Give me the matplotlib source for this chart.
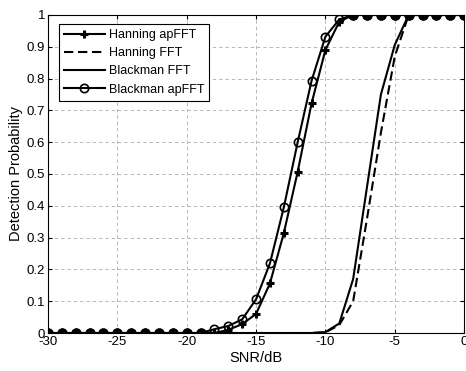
import numpy as np
import matplotlib
matplotlib.use("Agg")
import matplotlib.pyplot as plt

plt.rcParams['font.family'] = ['Liberation Sans', 'DejaVu Sans']
plt.rcParams['axes.unicode_minus'] = False

# SNR grid (dB) and detection probabilities
snr = list(range(-30, 1))
hann_ap = [0]*13 + [0.01, 0.028, 0.06, 0.156, 0.314, 0.507, 0.722, 0.89, 0.979] + [1]*9
hann_fft = [0]*20 + [0.002, 0.025, 0.10, 0.36, 0.63, 0.87] + [1]*5
blk_fft = [0]*20 + [0.003, 0.03, 0.17, 0.46, 0.75, 0.906] + [1]*5
blk_ap = [0]*12 + [0.012, 0.022, 0.043, 0.106, 0.219, 0.395, 0.60, 0.793, 0.932, 0.986] + [1]*9

labels = ['Hanning apFFT', 'Hanning FFT', 'Blackman FFT', 'Blackman apFFT']

fig = plt.figure(figsize=(4.66, 3.71), dpi=100)
ax = fig.add_axes([0.103, 0.1024, 0.893, 0.8572])

snr_a = np.array(snr)
ha = np.array(hann_ap)
ba = np.array(blk_ap)

ax.plot(snr, hann_ap, color='k', lw=1.5, marker='+', ms=6, mew=2.2, label=labels[0])
ax.plot(snr, hann_fft, color='k', lw=1.5, dashes=(4.5, 2.2), label=labels[1])
ax.plot(snr, blk_fft, color='k', lw=1.5, label=labels[2])
ax.plot(snr, blk_ap, color='k', lw=1.5, marker='o', ms=6, mfc='none', mew=1.2, label=labels[3])

# where the two apFFT curves coincide the markers merge into solid dots
same = (ha == ba) & ((ha == 0) | (ha == 1))
ax.plot(snr_a[same], ha[same], ls='none', marker='o', ms=6.5, color='k')

ax.set_xlim(-30, 0)
ax.set_ylim(0, 1)
ax.set_xticks(range(-30, 1, 5))
ax.set_yticks(np.arange(0, 1.01, 0.1))
ax.set_yticklabels(['0', '0.1', '0.2', '0.3', '0.4', '0.5', '0.6', '0.7', '0.8', '0.9', '1'])
ax.tick_params(direction='in', top=True, right=True, length=3, labelsize=9.5, pad=2)
ax.grid(True, color='#b8b8b8', ls=(0, (3.5, 3)), lw=0.7)
for s in ax.spines.values():
    s.set_linewidth(0.8)

ax.set_xlabel('SNR/dB', fontsize=10.5, labelpad=2)
ax.set_ylabel('Detection Probability', fontsize=10.5, labelpad=3)

leg = ax.legend(loc='upper left', bbox_to_anchor=(0.026, 0.972), fontsize=9,
                handlelength=3.3, handletextpad=0.3, borderpad=0.4, labelspacing=0.5,
                fancybox=False, framealpha=1, edgecolor='k', borderaxespad=0)
leg.get_frame().set_linewidth(0.8)

fig.savefig('out.png', dpi=100)
